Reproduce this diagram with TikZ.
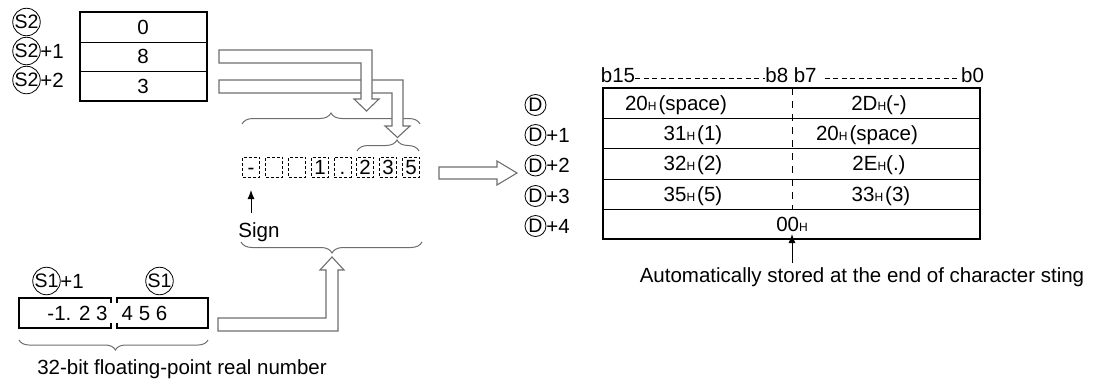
\documentclass[tikz,border=0pt]{standalone}
\usepackage{fontspec}
\setmainfont{Liberation Sans}
\usetikzlibrary{decorations.pathreplacing,arrows.meta}
\definecolor{garr}{RGB}{110,110,110}
\newcommand{\hx}{{\fontsize{12}{12}\selectfont H}}
\tikzset{
  txt/.style={font=\fontsize{20.5}{24}\selectfont, inner sep=0pt, text height=14.7pt, text depth=0pt},
  circ/.style={circle, draw, line width=0.8pt, inner sep=0pt, minimum size=23pt, font=\fontsize{19.5}{22}\selectfont},
  hollow/.style={draw=garr, fill=white, line width=1.1pt, line join=miter},
  gbrace/.style={draw=garr, line width=1pt, decorate, decoration={brace}},
  dbox/.style={draw, dash pattern=on 3pt off 2pt, line width=0.9pt, minimum width=17pt, minimum height=20pt, inner sep=0pt},
  outer/.style={draw, line width=1.8pt},
  inner/.style={draw, line width=1pt},
  bitdash/.style={draw, line width=0.7pt, dash pattern=on 5pt off 3.5pt},
  middash/.style={draw, line width=0.9pt, dash pattern=on 7pt off 6pt},
  sarrow/.style={draw, line width=1pt, -{Latex[length=9pt,width=7pt]}}
}
\begin{document}
\begin{tikzpicture}[x=1pt,y=-1pt]
\useasboundingbox (0,0) rectangle (1093,389);

% ---------- S2 table ----------
\draw[outer] (80,12) rectangle (207,101);
\draw[inner] (80,42) -- (207,42);
\draw[inner] (80,71) -- (207,71);
\node[txt] (s2a) at (143,27) {0};
\node[txt] (s2b) at (143,56.5) {8};
\node[txt] (s2c) at (143,86) {3};
\node[circ] (c2a) at (26.5,22) {S2};
\node[circ] (c2b) at (26.5,51) {S2};
\node[txt] (p2b) at (52,51) {+1};
\node[circ] (c2c) at (26.5,80) {S2};
\node[txt] (p2c) at (52,80) {+2};

% ---------- braces ----------
\draw[gbrace, decoration={amplitude=11pt, aspect=0.5}] (242,124) -- (420,124);
\draw[gbrace, decoration={amplitude=11pt, aspect=0.645}] (357,151) -- (419,151);
\draw[gbrace, decoration={amplitude=11pt, aspect=0.497}] (422,242) -- (241,242);
\draw[gbrace, decoration={amplitude=10pt, aspect=0.49}] (208,340) -- (19,340);

% ---------- hollow arrows ----------
\draw[hollow] (219,80) -- (403,80) -- (403,126) -- (410,126) -- (397.5,137.5) -- (385,126) -- (392,126) -- (392,93) -- (219,93) -- cycle;
\draw[hollow] (219,50) -- (372,50) -- (372,99) -- (379,99) -- (366.5,111) -- (354,99) -- (361,99) -- (361,63) -- (219,63) -- cycle;
\draw[hollow] (439,167) -- (497,167) -- (497,161) -- (517,173) -- (497,185) -- (497,179) -- (439,179) -- cycle;
\draw[hollow] (218,318) -- (326,318) -- (326,270) -- (320,270) -- (332,257) -- (344,270) -- (338,270) -- (338,331) -- (218,331) -- cycle;

% ---------- dashed character boxes ----------
\node[dbox] (k1) at (251,167) {};
\node[dbox] (k2) at (274,167) {};
\node[dbox] (k3) at (297,167) {};
\node[dbox] (k4) at (320,167) {};
\node[dbox] (k5) at (342.5,167) {};
\node[dbox] (k6) at (365,167) {};
\node[dbox] (k7) at (388,167) {};
\node[dbox] (k8) at (411,167) {};
\node[txt] at (k1) {-};
\node[txt] at (k4) {1};
\node[txt] at (k5) {.};
\node[txt] at (k6) {2};
\node[txt] at (k7) {3};
\node[txt] at (k8) {5};

% sign arrow
\coordinate (st) at (251,213);
\coordinate (sh) at (251,190);
\draw[sarrow] (st) -- (sh);
\node[txt] (sign) at (259,230) {Sign};

% ---------- S1 box ----------
\draw[line width=1.5pt] (111,303) -- (111,298) -- (19,298) -- (19,328) -- (111,328) -- (111,323);
\draw[line width=1.5pt] (117,303) -- (117,298) -- (208,298) -- (208,328) -- (117,328) -- (117,323);
\node[txt] (s1l) at (77.5,313) {-1. 2 3};
\node[txt] (s1r) at (144.5,313) {4 5 6};
\node[circ] (c1a) at (46.5,281) {S1};
\node[txt] (p1a) at (72,281) {+1};
\node[circ] (c1b) at (159.5,281) {S1};
\node[txt] (bits32) at (182,367) {32-bit floating-point real number};

% ---------- D table ----------
\node[txt] (b15) at (618,75.5) {b15};
\node[txt] (b87) at (791,75.5) {b8 b7};
\node[txt] (b0) at (972.5,75.5) {b0};
\draw[bitdash] ([yshift=-2.5pt]b15.east) -- ([yshift=-2.5pt]b87.west);
\draw[bitdash] ([yshift=-2.5pt,xshift=8pt]b87.east) -- ([yshift=-2.5pt,xshift=-4pt]b0.west);

\draw[outer] (603,88) rectangle (980,239);
\draw[inner] (603,118) -- (980,118);
\draw[inner] (603,148) -- (980,148);
\draw[inner] (603,179) -- (980,179);
\draw[inner] (603,209) -- (980,209);
\draw[middash] (792,88) -- (792,209);

\node[txt] (l1) at (676,103) {20\hx\hspace{2pt}(space)};
\node[txt] (l2) at (693,133) {31\hx\hspace{2pt}(1)};
\node[txt] (l3) at (693,163.5) {32\hx\hspace{2pt}(2)};
\node[txt] (l4) at (693,194) {35\hx\hspace{2pt}(5)};
\node[txt] (r1) at (879,103) {2D\hx(-)};
\node[txt] (r2) at (867,133) {20\hx\hspace{2pt}(space)};
\node[txt] (r3) at (879,163.5) {2E\hx(.)};
\node[txt] (r4) at (881,194) {33\hx\hspace{2pt}(3)};
\node[txt] (zz) at (792,224) {00\hx};

\node[circ, minimum size=21pt] (d0) at (535.5,105) {D};
\node[circ, minimum size=21pt] (d1) at (535.5,135) {D};
\node[txt] at (558,135) {+1};
\node[circ, minimum size=21pt] (d2) at (535.5,165.5) {D};
\node[txt] at (558,165.5) {+2};
\node[circ, minimum size=21pt] (d3) at (535.5,196) {D};
\node[txt] at (558,196) {+3};
\node[circ, minimum size=21pt] (d4) at (535.5,226) {D};
\node[txt] at (558,226) {+4};

\node[txt] (auto) at (862,275) {Automatically stored at the end of character sting};
\coordinate (at) at (792,263);
\coordinate (ah) at (792,234);
\draw[sarrow] (at) -- (ah);
\end{tikzpicture}
\end{document}
